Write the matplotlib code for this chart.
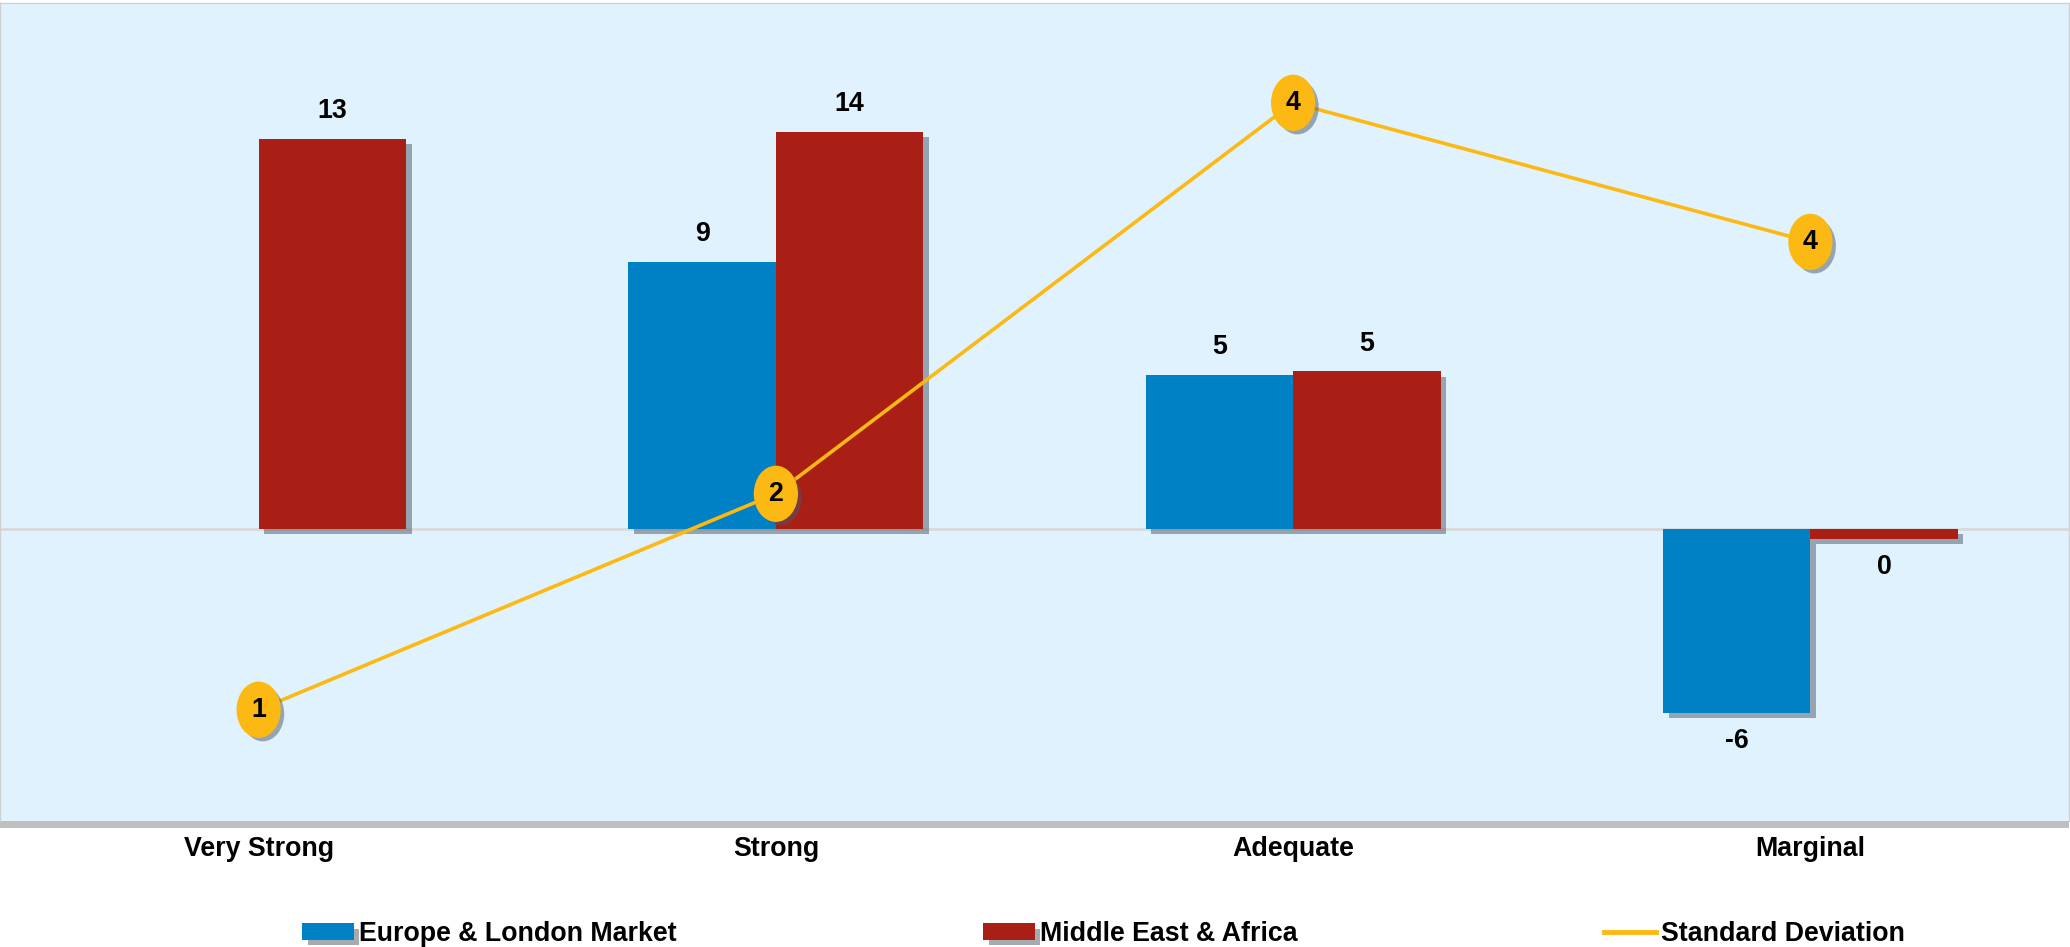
# bar + line combo chart: ratings by region with standard deviation
import numpy as np
import matplotlib
matplotlib.use("Agg")
import matplotlib.pyplot as plt
import matplotlib.patheffects as pe
from matplotlib.path import Path

categories = ["Very Strong", "Strong", "Adequate", "Marginal"]
europe = [0, 9.15, 5.26, -6.3]          # Europe & London Market
mea = [13.36, 13.6, 5.39, -0.34]        # Middle East & Africa
std_dev = [0.68, 2.0, 4.39, 3.54]       # Standard Deviation (secondary axis)
std_labels = ["1", "2", "4", "4"]

blue = "#0081C6"
red = "#A91F16"
gold = "#FDB913"
bg = "#E0F2FD"

plt.rcParams["font.family"] = ["Liberation Sans", "DejaVu Sans"]
plt.rcParams["font.weight"] = "bold"
fs = 19.3

fig = plt.figure(figsize=(20.7, 9.47), dpi=100)
ax = fig.add_axes([0, 126 / 947, 2069 / 2070, 818 / 947])
ax.set_facecolor(bg)
ax.patch.set_path_effects([pe.SimplePatchShadow(offset=(0, -5), shadow_rgbFace="gray", alpha=0.5), pe.Normal()])

x = np.arange(len(categories))
w = 0.285
shadow = [pe.SimplePatchShadow(offset=(4, -4), shadow_rgbFace="#4a5a66", alpha=0.5), pe.Normal()]

bars_eu = ax.bar(x - w / 2, europe, w, color=blue, label="Europe & London Market", zorder=2)
bars_me = ax.bar(x + w / 2, mea, w, color=red, label="Middle East & Africa", zorder=2)
for b in list(bars_eu) + list(bars_me):
    b.set_path_effects(shadow)

# data labels (skip empty europe bar)
for bars, vals in [(bars_eu, europe), (bars_me, mea)]:
    for b, v in zip(bars, vals):
        if v == 0:
            continue
        off = 20 if v > 0 else -20
        ax.annotate(f"{round(v):d}" if round(v) != 0 else "0", (b.get_x() + b.get_width() / 2, v),
                    xytext=(0, off), textcoords="offset points", ha="center", va="center",
                    fontsize=fs, fontweight="bold")

ax.axhline(0, color="#D9D9D9", lw=2, zorder=1.5)
ax.set_xlim(-0.5, 3.5)
ax.set_ylim(-10, 18)
ax.set_yticks([])
ax.set_xticks(x)
ax.set_xticklabels(categories, fontsize=fs, fontweight="bold")
ax.tick_params(axis="x", length=0, pad=11)
for s in ax.spines.values():
    s.set_color("#D0D0D0")
    s.set_linewidth(1)
ax.spines["bottom"].set_visible(False)

# secondary axis for the standard deviation line
ax2 = ax.twinx()
ax2.set_ylim(0, 5)
ax2.set_yticks([])
for s in ax2.spines.values():
    s.set_visible(False)
ax2.plot(x, std_dev, color=gold, lw=2.6, label="Standard Deviation", zorder=3)

circ = Path.unit_circle()
oval = Path(circ.vertices * [0.78, 1.0], circ.codes)
sc = ax2.scatter(x, std_dev, s=39.5 ** 2, marker=oval, color=gold, zorder=4)
sc.set_path_effects([pe.SimplePatchShadow(offset=(3, -3), shadow_rgbFace="#4a5a66", alpha=0.5), pe.Normal()])
for xi, v, t in zip(x, std_dev, std_labels):
    ax2.text(xi, v, t, ha="center", va="center", fontsize=fs, fontweight="bold", zorder=5)

h1, l1 = ax.get_legend_handles_labels()
h2, l2 = ax2.get_legend_handles_labels()
leg = fig.legend(h1 + h2, l1 + l2, loc="center left", bbox_to_anchor=(302 / 2070, 13 / 947),
                 ncol=3, frameon=False, borderpad=0, borderaxespad=0,
                 handlelength=1.93, handleheight=0.55, handletextpad=0.18, columnspacing=11.45,
                 prop={"weight": "bold", "size": fs})
leg.get_lines()[0].set_linewidth(3.5)

fig.savefig("out.png", dpi=100)
